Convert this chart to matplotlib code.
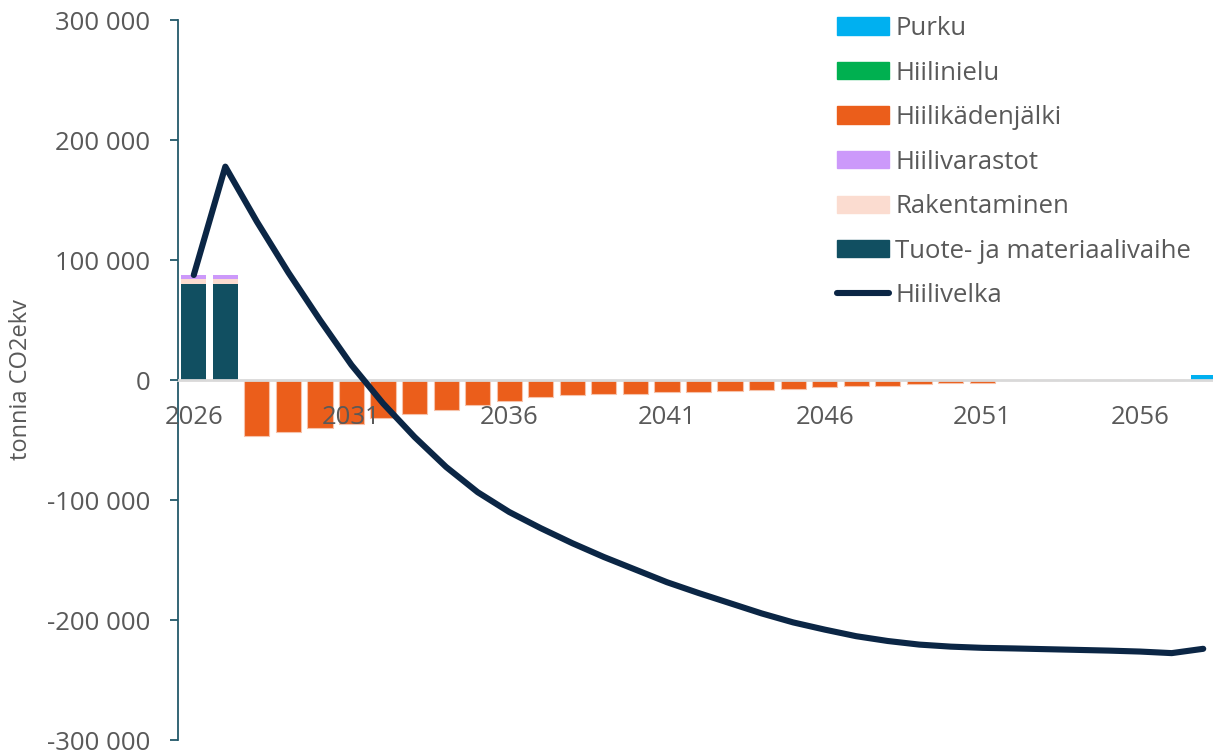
import numpy as np
import matplotlib.pyplot as plt
from matplotlib.ticker import FuncFormatter
from matplotlib.patches import Patch
from matplotlib.lines import Line2D

plt.rcParams['font.family'] = ['Open Sans', 'DejaVu Sans']

# Data (tonnia CO2ekv)
# -------------------------------------------------------------
years = [2026, 2027, 2028, 2029, 2030, 2031, 2032, 2033, 2034, 2035, 2036,
         2037, 2038, 2039, 2040, 2041, 2042, 2043, 2044, 2045, 2046, 2047,
         2048, 2049, 2050, 2051, 2052, 2053, 2054, 2055, 2056, 2057, 2058]

tuote = [80300, 80300] + [0] * 31
rakentaminen = [4200, 4200] + [0] * 31
hiilivarastot = [3300, 3300] + [0] * 31
hiilinielu = [0] * 33
kadenjalki = [0, 0, -46800, -43200, -39600, -36500, -32000, -28200, -24800,
              -21200, -17700, -13750, -12700, -11800, -11500, -10400, -9600,
              -9000, -8200, -7300, -6200, -5400, -4600, -3700, -2900, -2100,
              -300, -300, -300, -300, -300, -300, -300]
purku = [0] * 32 + [4000]

hiilivelka = [87500, 177800, 132000, 89500, 50000, 12500, -19500, -47500,
              -72500, -93500, -110000, -123500, -136000, -147500, -158000,
              -168500, -177500, -186000, -194500, -202000, -208000, -213500,
              -217500, -220500, -222200, -223200, -223700, -224300, -224900,
              -225500, -226300, -227600, -224000]

c_tuote = '#114F61'
c_rak = '#FBDCD0'
c_varasto = '#CC99FA'
c_nielu = '#00B050'
c_kaden = '#EB5E1B'
c_purku = '#00B0F0'
c_velka = '#0B2645'
c_text = '#595959'
# -------------------------------------------------------------

fig = plt.figure(figsize=(12.13, 7.55), dpi=100)
ax = fig.add_axes([178 / 1213, 15 / 755, 1041 / 1213, 720 / 755])

x = np.arange(len(years))
w = 0.8

b = np.zeros(len(years))
ax.bar(x, tuote, w, bottom=b, color=c_tuote, linewidth=0)
b += tuote
ax.bar(x, rakentaminen, w, bottom=b, color=c_rak, linewidth=0)
b += rakentaminen
ax.bar(x, hiilivarastot, w, bottom=b, color=c_varasto, linewidth=0)
b += hiilivarastot
ax.bar(x, hiilinielu, w, bottom=b, color=c_nielu, linewidth=0)
ax.bar(x, kadenjalki, w, color=c_kaden, edgecolor='#F6C2AA', linewidth=0.8)
ax.bar(x, purku, w, color=c_purku, linewidth=0)

ax.plot(x, hiilivelka, color=c_velka, lw=4.4, solid_joinstyle='round',
        solid_capstyle='round', zorder=4)

ax.set_xlim(-0.5, len(years) - 0.5)
ax.set_ylim(-300000, 300000)
ax.set_yticks(np.arange(-300000, 300001, 100000))
ax.yaxis.set_major_formatter(FuncFormatter(lambda v, p: f'{int(v):,}'.replace(',', ' ')))
ax.set_xticks(x[::5])
ax.set_xticklabels(years[::5])

ax.spines['top'].set_visible(False)
ax.spines['right'].set_visible(False)
ax.spines['bottom'].set_position(('data', 0))
ax.spines['bottom'].set_color('#D9D9D9')
ax.spines['bottom'].set_linewidth(2)
ax.spines['left'].set_color('#24596A')
ax.spines['left'].set_linewidth(1.3)
ax.set_axisbelow(False)

ax.tick_params(axis='x', length=0, pad=18, labelsize=18.5, labelcolor=c_text)
ax.tick_params(axis='y', length=6, width=1.3, color='#24596A', pad=14,
               labelsize=18.5, labelcolor=c_text)

ax.set_ylabel('tonnia CO2ekv', fontsize=17, color=c_text, labelpad=10)

handles = [
    Patch(color=c_purku, label='Purku'),
    Patch(color=c_nielu, label='Hiilinielu'),
    Patch(color=c_kaden, label='Hiilikädenjälki'),
    Patch(color=c_varasto, label='Hiilivarastot'),
    Patch(color=c_rak, label='Rakentaminen'),
    Patch(color=c_tuote, label='Tuote- ja materiaalivaihe'),
    Line2D([0], [0], color=c_velka, lw=4.4, solid_capstyle='round', label='Hiilivelka'),
]
fig.legend(handles=handles, loc='upper left', bbox_to_anchor=(837 / 1213, 1 - 16 / 755),
           frameon=False, fontsize=18.5, labelcolor=c_text, handlelength=2.02,
           handleheight=0.65, handletextpad=0.25, labelspacing=0.76,
           borderpad=0, borderaxespad=0)

fig.savefig('out.png', dpi=100)
